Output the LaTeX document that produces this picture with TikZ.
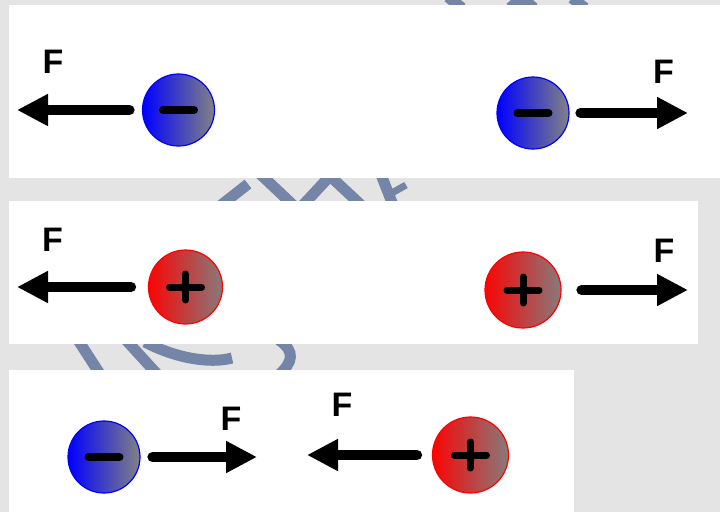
\documentclass[tikz,border=0pt]{standalone}
\usepackage{fontspec}
\setmainfont{Liberation Sans}
\usetikzlibrary{arrows.meta}
\definecolor{bg}{HTML}{E4E4E4}
\definecolor{wm}{HTML}{7585A7}
\definecolor{negL}{RGB}{0,0,255}
\definecolor{negR}{RGB}{130,130,132}
\definecolor{posL}{RGB}{250,5,5}
\definecolor{posR}{RGB}{135,122,122}
\tikzset{
  panel/.style={fill=white},
  wmark/.style={draw=wm, line width=11pt},
  charge/.style={circle, inner sep=0pt, line width=1.2pt},
  negsign/.style={path picture={\draw[black, line width=8pt, line cap=round]
      ([xshift=-15.5pt]path picture bounding box.center) --
      ([xshift=15.5pt]path picture bounding box.center);}},
  possign/.style={path picture={\draw[black, line width=7pt, line cap=round]
      ([xshift=-16pt]path picture bounding box.center) --
      ([xshift=16pt]path picture bounding box.center)
      ([yshift=-13pt]path picture bounding box.center) --
      ([yshift=13pt]path picture bounding box.center);}},
  negcharge/.style={charge, draw=blue, left color=negL, right color=negR, negsign},
  poscharge/.style={charge, draw=red, left color=posL, right color=posR, possign},
  force/.style={line width=10.5pt, line cap=round, -{Triangle[length=31pt,width=30pt]}},
  flabel/.style={inner sep=0pt, font=\fontsize{34}{34}\selectfont\bfseries}
}
\begin{document}
\begin{tikzpicture}[x=1pt, y=-1pt]
  \useasboundingbox (0,0) rectangle (720,512);
  \fill[bg] (0,0) rectangle (720,512);
  % watermark fragments
  \draw[wmark] (220,206) -- (248,184);
  \draw[wmark] (258,172) -- (293,205);
  \draw[wmark] (303,205) -- (330,176) -- (361,205);
  \draw[wmark] (380,172) -- (393,205);
  \draw[wmark, line width=7pt] (390,194) -- (406,185);
  \draw[wmark] (448,-3) -- (462,8);
  \draw[wmark] (510,8) -- (522,-2) -- (534,8);
  \draw[wmark] (572,-2) -- (585,8);
  \draw[wmark] (78,340) -- (100,374);
  \draw[wmark] (126,340) -- (157,374);
  \draw[wmark] (145,342) .. controls (175,358) and (210,364) .. (232,358);
  \draw[wmark] (279,340) .. controls (296,352) and (292,362) .. (280,374);
  % panels
  \fill[panel] (9,5) rectangle (720,178);
  \fill[panel] (9,201) rectangle (698,344);
  \fill[panel] (9,370) rectangle (574,512);
  % panel 1
  \node[negcharge, minimum size=72pt] (cA) at (178.5,110) {};
  \coordinate (tA) at (17,110);
  \draw[force] ([xshift=-12.5pt]cA.west) -- (tA);
  \node[flabel] (fA) at (53,62) {F};
  \node[negcharge, minimum size=72pt] (cB) at (533,113) {};
  \coordinate (tB) at (688,113);
  \draw[force] ([xshift=11pt]cB.east) -- (tB);
  \node[flabel] (fB) at (663.5,72) {F};
  % panel 2
  \node[poscharge, minimum size=74pt] (cC) at (185.5,287) {};
  \coordinate (tC) at (17,287);
  \draw[force] ([xshift=-17pt]cC.west) -- (tC);
  \node[flabel] (fC) at (52.5,240) {F};
  \node[poscharge, minimum size=76pt] (cD) at (523,290) {};
  \coordinate (tD) at (688,290);
  \draw[force] ([xshift=20pt]cD.east) -- (tD);
  \node[flabel] (fD) at (664,251) {F};
  % panel 3
  \node[negcharge, minimum size=72pt] (cE) at (104,457) {};
  \coordinate (tE) at (257,457);
  \draw[force] ([xshift=12pt]cE.east) -- (tE);
  \node[flabel] (fE) at (231,419) {F};
  \node[poscharge, minimum size=76pt] (cF) at (470.5,455) {};
  \coordinate (tF) at (307,455);
  \draw[force] ([xshift=-15pt]cF.west) -- (tF);
  \node[flabel] (fF) at (342,405) {F};
\end{tikzpicture}
\end{document}
